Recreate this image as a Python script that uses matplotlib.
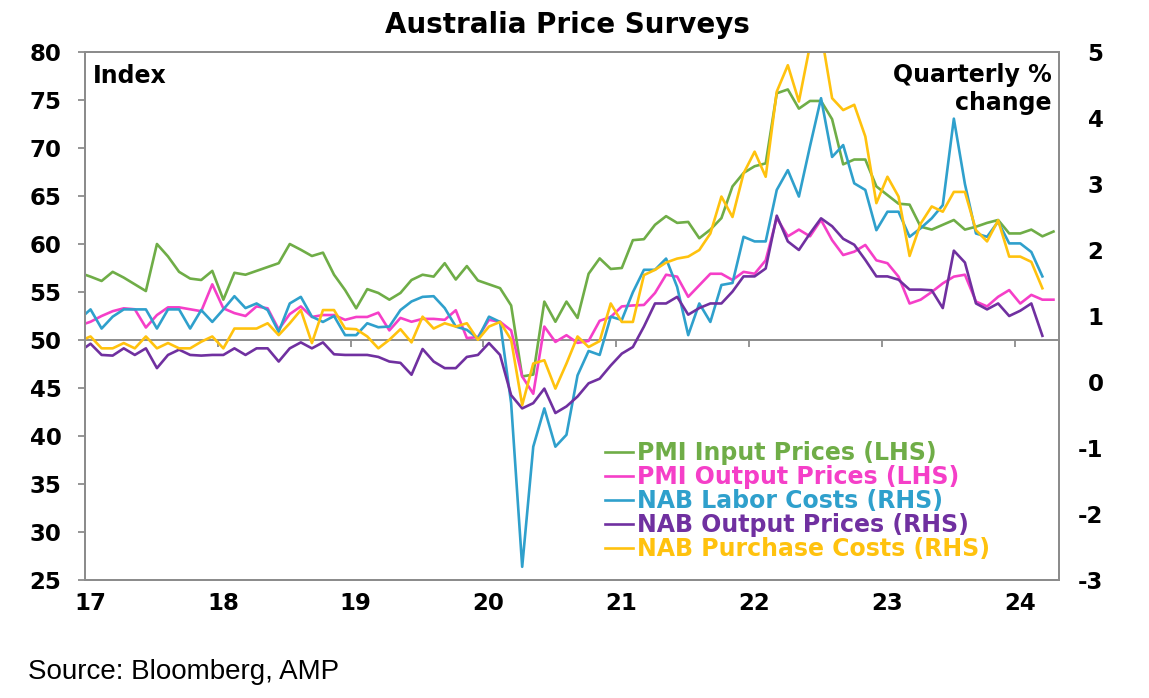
import matplotlib
matplotlib.use("Agg")
import matplotlib.pyplot as plt
import matplotlib.transforms as mtransforms
import pandas as pd

# monthly observations, Dec 2016 .. Apr 2024 (Dec 2016 only feeds the left edge)
pmi_months = pd.period_range("2016-12", "2024-04", freq="M")
nab_months = pd.period_range("2016-12", "2024-03", freq="M")

pmi_input = [57.0, 56.6, 56.15, 57.1, 56.5, 55.8, 55.1, 60.0, 58.7, 57.1, 56.4, 56.25, 57.2,
             54.2, 57.0, 56.8, 57.2, 57.6, 58.0, 60.0, 59.4, 58.75, 59.1, 56.8, 55.2,
             53.3, 55.3, 54.9, 54.2, 54.9, 56.25, 56.8, 56.6, 58.0, 56.3, 57.7, 56.2,
             55.8, 55.4, 53.6, 46.2, 46.4, 54.0, 51.9, 54.0, 52.3, 56.9, 58.5, 57.4,
             57.5, 60.4, 60.5, 62.0, 62.9, 62.2, 62.3, 60.6, 61.5, 62.7, 66.0, 67.4, 68.1,
             68.4, 75.7, 76.1, 74.1, 74.9, 74.9, 73.0, 68.3, 68.8, 68.8, 66.0, 65.1,
             64.2, 64.1, 61.8, 61.5, 62.0, 62.5, 61.5, 61.8, 62.2, 62.5, 61.1, 61.1,
             61.5, 60.8, 61.3]
pmi_output = [51.5, 51.9, 52.5, 53.0, 53.3, 53.2, 51.3, 52.6, 53.4, 53.4, 53.2, 53.0, 55.8,
              53.3, 52.8, 52.5, 53.5, 53.3, 51.1, 52.7, 53.5, 52.4, 52.6, 52.6, 52.1,
              52.4, 52.4, 52.85, 51.0, 52.3, 51.9, 52.2, 52.2, 52.1, 53.1, 50.2, 50.3,
              52.1, 51.9, 51.0, 46.2, 44.4, 51.4, 49.8, 50.5, 49.7, 49.9, 52.0, 52.4,
              53.5, 53.6, 53.65, 54.9, 56.8, 56.6, 54.5, 55.7, 56.9, 56.9, 56.25, 57.1,
              56.9, 58.3, 62.7, 60.8, 61.5, 60.8, 62.5, 60.4, 58.85, 59.2, 59.9, 58.3,
              58.0, 56.6, 53.8, 54.2, 55.0, 55.9, 56.6, 56.8, 54.0, 53.5, 54.5, 55.2,
              53.8, 54.7, 54.2, 54.2]
nab_labour = [0.95, 1.10, 0.81, 0.99, 1.10, 1.10, 1.10, 0.81, 1.10, 1.10, 0.81, 1.09, 0.91,
              1.10, 1.30, 1.12, 1.19, 1.09, 0.76, 1.19, 1.29, 0.99, 0.91, 1.0, 0.71,
              0.71, 0.89, 0.83, 0.84, 1.09, 1.22, 1.29, 1.30, 1.12, 0.84, 0.79, 0.66,
              0.99, 0.91, -0.32, -2.80, -0.98, -0.40, -0.98, -0.80, 0.10, 0.47, 0.41, 0.99,
              0.94, 1.36, 1.70, 1.70, 1.87, 1.44, 0.71, 1.19, 0.91, 1.47, 1.50, 2.20,
              2.13, 2.13, 2.91, 3.21, 2.81, 3.57, 4.30, 3.41, 3.59, 3.01, 2.91, 2.30,
              2.58, 2.58, 2.20, 2.33, 2.48, 2.68, 3.99, 3.0, 2.25, 2.20, 2.43, 2.10,
              2.10, 1.97, 1.60]
nab_output = [0.46, 0.58, 0.41, 0.40, 0.51, 0.41, 0.51, 0.21, 0.41, 0.49, 0.41, 0.40, 0.41,
              0.41, 0.51, 0.41, 0.51, 0.51, 0.31, 0.51, 0.60, 0.51, 0.60, 0.42, 0.41,
              0.41, 0.41, 0.38, 0.31, 0.29, 0.11, 0.50, 0.31, 0.21, 0.21, 0.38, 0.41,
              0.59, 0.41, -0.20, -0.40, -0.32, -0.10, -0.47, -0.37, -0.22, -0.02, 0.05, 0.25,
              0.43, 0.53, 0.84, 1.19, 1.19, 1.29, 1.02, 1.12, 1.19, 1.19, 1.37, 1.60,
              1.60, 1.72, 2.52, 2.13, 2.00, 2.25, 2.48, 2.36, 2.17, 2.08, 1.85, 1.60,
              1.60, 1.55, 1.40, 1.40, 1.39, 1.12, 1.99, 1.81, 1.19, 1.10, 1.19, 1.00,
              1.08, 1.19, 0.70]
nab_purchase = [0.62, 0.69, 0.51, 0.51, 0.59, 0.51, 0.69, 0.51, 0.59, 0.51, 0.51, 0.61, 0.69,
                0.51, 0.81, 0.81, 0.81, 0.89, 0.71, 0.89, 1.09, 0.59, 1.09, 1.09, 0.81,
                0.80, 0.69, 0.51, 0.64, 0.80, 0.60, 0.99, 0.81, 0.89, 0.84, 0.89, 0.64,
                0.84, 0.91, 0.64, -0.35, 0.28, 0.33, -0.10, 0.28, 0.69, 0.53, 0.62, 1.19,
                0.91, 0.91, 1.62, 1.70, 1.81, 1.87, 1.90, 2.00, 2.25, 2.81, 2.50, 3.16,
                3.49, 3.11, 4.40, 4.80, 4.25, 5.10, 5.30, 4.30, 4.12, 4.20, 3.72, 2.71,
                3.11, 2.81, 1.91, 2.40, 2.66, 2.58, 2.88, 2.88, 2.30, 2.13, 2.45, 1.90,
                1.90, 1.82, 1.42]

year_ticks = [2017, 2018, 2019, 2020, 2021, 2022, 2023, 2024]
year_labels = ["17", "18", "19", "20", "21", "22", "23", "24"]

GREEN = "#6FAD47"
PINK = "#F53FC8"
BLUE = "#2FA0CC"
PURPLE = "#7030A0"
GOLD = "#FFC20E"
GREY = "#8C8C8C"

plt.rcParams["font.family"] = ["DejaVu Sans"]
plt.rcParams["font.weight"] = "bold"
plt.rcParams["axes.unicode_minus"] = False


def mid_month(months):
    return months.year + (months.month - 0.5) / 12


W, H = 1149, 698
fig = plt.figure(figsize=(W / 100, H / 100), dpi=100)
ax = fig.add_axes([85 / W, 1 - 580 / H, (1059 - 85) / W, (580 - 52) / H])
ax2 = ax.twinx()

ax.plot(mid_month(pmi_months), pmi_input, color=GREEN, lw=1.9, label="PMI Input Prices (LHS)")
ax.plot(mid_month(pmi_months), pmi_output, color=PINK, lw=1.9, label="PMI Output Prices (LHS)")
ax2.plot(mid_month(nab_months), nab_labour, color=BLUE, lw=1.9, label="NAB Labor Costs (RHS)")
ax2.plot(mid_month(nab_months), nab_output, color=PURPLE, lw=1.9, label="NAB Output Prices (RHS)")
ax2.plot(mid_month(nab_months), nab_purchase, color=GOLD, lw=1.9, label="NAB Purchase Costs (RHS)")

ax.set_xlim(2017, 2024 + 4 / 12)
ax.set_ylim(25, 80)
ax.set_yticks(range(25, 81, 5))
ax2.set_ylim(-3, 5)
ax2.set_yticks(range(-3, 6))

ax.set_xticks(year_ticks)
ax.set_xticklabels(year_labels)
ax.tick_params(axis="x", length=0, pad=9, labelsize=16.5)
ax.tick_params(axis="y", length=5, width=1.3, color=GREY, pad=12, labelsize=16.5)
ax2.tick_params(axis="y", length=0, pad=32, labelsize=16.5)
for lab in ax2.get_yticklabels():
    lab.set_horizontalalignment("right")
shift = mtransforms.ScaledTranslation(5 / 100, 0, fig.dpi_scale_trans)
for lab in ax.get_xticklabels():
    lab.set_transform(lab.get_transform() + shift)

for a in (ax, ax2):
    for sp in a.spines.values():
        sp.set_color(GREY)
        sp.set_linewidth(1.4)

# horizontal axis crossing at 50 on the LHS scale, with year ticks
cross = ax.secondary_xaxis((50 - 25) / (80 - 25))
cross.set_xticks(year_ticks)
cross.tick_params(axis="x", direction="out", length=5, width=1.3, color=GREY,
                  labelbottom=False, labeltop=False)
for sp in cross.spines.values():
    sp.set_color(GREY)
    sp.set_linewidth(1.4)

fig.text(567 / W, 1 - 25 / H, "Australia Price Surveys", ha="center", va="center", fontsize=20)
fig.text(93 / W, 1 - 76 / H, "Index", ha="left", va="center", fontsize=17)
fig.text(1052 / W, 1 - 89 / H, "Quarterly %\nchange", ha="right", va="center",
         multialignment="right", fontsize=17)
fig.text(28 / W, 1 - 672 / H, "Source: Bloomberg, AMP", ha="left", va="center",
         fontsize=20, fontweight="normal", family="Liberation Sans")

h1, l1 = ax.get_legend_handles_labels()
h2, l2 = ax2.get_legend_handles_labels()
fig.legend(h1 + h2, l1 + l2, loc="upper left", bbox_to_anchor=(605 / W, 1 - 441 / H),
           frameon=False, fontsize=17, labelcolor="linecolor", handlelength=1.2,
           handletextpad=0.15, labelspacing=0.0, borderpad=0, borderaxespad=0)

fig.savefig("out.png", dpi=100)
